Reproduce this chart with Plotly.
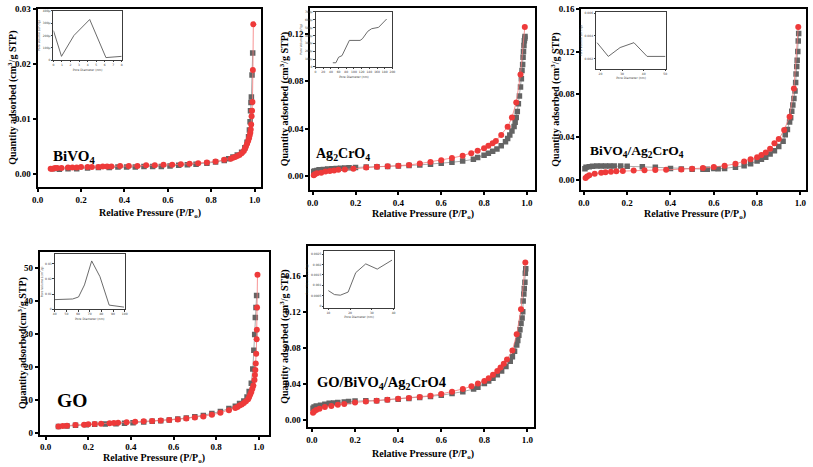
import plotly.graph_objects as go

W, H = 813, 467

# ---------------- data ----------------
bivo4_red_x = [0.06, 0.07, 0.08, 0.09, 0.11, 0.14, 0.16, 0.18, 0.20, 0.23, 0.25, 0.28, 0.30, 0.32, 0.34, 0.38, 0.42, 0.46, 0.50, 0.54, 0.58, 0.62, 0.66, 0.70, 0.74, 0.78, 0.82, 0.86, 0.89, 0.90, 0.91, 0.92, 0.93, 0.94, 0.95, 0.955, 0.96, 0.965, 0.97, 0.974, 0.977, 0.980, 0.982, 0.984, 0.986, 0.988, 0.990, 0.992, 0.994]
bivo4_red_y = [0.0010, 0.0010, 0.0011, 0.0011, 0.0011, 0.0012, 0.0012, 0.0012, 0.0013, 0.0013, 0.0013, 0.0013, 0.0014, 0.0014, 0.0014, 0.0015, 0.0015, 0.0015, 0.0016, 0.0016, 0.0017, 0.0017, 0.0018, 0.0019, 0.0020, 0.0021, 0.0023, 0.0026, 0.0028, 0.0030, 0.0031, 0.0033, 0.0035, 0.0038, 0.0042, 0.0046, 0.0050, 0.0055, 0.0060, 0.0065, 0.0070, 0.0075, 0.0081, 0.0090, 0.0105, 0.0115, 0.0131, 0.0189, 0.0272]
bivo4_gray_x = [0.07, 0.10, 0.14, 0.18, 0.23, 0.28, 0.33, 0.37, 0.41, 0.45, 0.49, 0.53, 0.57, 0.61, 0.65, 0.69, 0.73, 0.78, 0.82, 0.86, 0.88, 0.90, 0.92, 0.94, 0.955, 0.965, 0.972, 0.976, 0.979, 0.981, 0.983, 0.985, 0.988, 0.991]
bivo4_gray_y = [0.0010, 0.0009, 0.0010, 0.0010, 0.0011, 0.0012, 0.0012, 0.0013, 0.0013, 0.0013, 0.0014, 0.0014, 0.0014, 0.0015, 0.0016, 0.0017, 0.0018, 0.0020, 0.0022, 0.0025, 0.0028, 0.0031, 0.0035, 0.0040, 0.0048, 0.0058, 0.0068, 0.0080, 0.0095, 0.0115, 0.0130, 0.0140, 0.0180, 0.0220]

ag_red_x = [0.005, 0.01, 0.02, 0.04, 0.06, 0.08, 0.10, 0.12, 0.15, 0.19, 0.25, 0.30, 0.35, 0.40, 0.45, 0.50, 0.55, 0.60, 0.65, 0.70, 0.74, 0.77, 0.80, 0.82, 0.84, 0.855, 0.88, 0.91, 0.93, 0.95, 0.97, 0.99]
ag_red_y = [0.0010, 0.0018, 0.0025, 0.0030, 0.0040, 0.0045, 0.0050, 0.0055, 0.0058, 0.0063, 0.0074, 0.0080, 0.0084, 0.0088, 0.0096, 0.0107, 0.0121, 0.0135, 0.0154, 0.0173, 0.0195, 0.0215, 0.0237, 0.0256, 0.0278, 0.0297, 0.0347, 0.0416, 0.0495, 0.0620, 0.0856, 0.1255]
ag_gray_x = [0.005, 0.01, 0.02, 0.03, 0.05, 0.07, 0.09, 0.11, 0.13, 0.15, 0.17, 0.20, 0.25, 0.30, 0.35, 0.40, 0.45, 0.50, 0.55, 0.60, 0.65, 0.70, 0.75, 0.77, 0.80, 0.82, 0.84, 0.86, 0.88, 0.90, 0.91, 0.92, 0.93, 0.94, 0.945, 0.95, 0.955, 0.96, 0.965, 0.97, 0.974, 0.977, 0.98, 0.982, 0.984, 0.986, 0.988, 0.99, 0.991]
ag_gray_y = [0.0040, 0.0045, 0.0050, 0.0055, 0.0058, 0.0061, 0.0064, 0.0066, 0.0068, 0.0070, 0.0072, 0.0075, 0.0078, 0.0080, 0.0083, 0.0087, 0.0091, 0.0096, 0.0102, 0.0109, 0.0118, 0.0128, 0.0143, 0.0158, 0.0178, 0.0193, 0.0210, 0.0230, 0.0258, 0.0290, 0.0318, 0.0348, 0.0380, 0.0418, 0.0455, 0.0495, 0.0545, 0.0610, 0.0675, 0.0750, 0.0820, 0.0890, 0.0940, 0.1000, 0.1050, 0.1100, 0.1140, 0.1160, 0.1175]

bvag_red_x = [0.008, 0.015, 0.025, 0.05, 0.08, 0.10, 0.125, 0.15, 0.18, 0.23, 0.28, 0.33, 0.38, 0.45, 0.50, 0.55, 0.60, 0.65, 0.70, 0.74, 0.77, 0.80, 0.82, 0.84, 0.86, 0.88, 0.90, 0.925, 0.95, 0.97, 0.99]
bvag_red_y = [0.0015, 0.0030, 0.0040, 0.0055, 0.0065, 0.0070, 0.0075, 0.0078, 0.0080, 0.0085, 0.0088, 0.0090, 0.0092, 0.0095, 0.0103, 0.0108, 0.0118, 0.0130, 0.0148, 0.0170, 0.0190, 0.0210, 0.0230, 0.0255, 0.0290, 0.0340, 0.0380, 0.0465, 0.0590, 0.0855, 0.1430]
bvag_gray_x = [0.005, 0.01, 0.025, 0.04, 0.06, 0.08, 0.10, 0.12, 0.14, 0.17, 0.20, 0.27, 0.33, 0.40, 0.45, 0.50, 0.55, 0.57, 0.60, 0.62, 0.65, 0.70, 0.74, 0.77, 0.80, 0.82, 0.84, 0.86, 0.88, 0.90, 0.92, 0.93, 0.94, 0.95, 0.955, 0.96, 0.965, 0.97, 0.975, 0.978, 0.98, 0.983, 0.985, 0.988, 0.99, 0.992]
bvag_gray_y = [0.0101, 0.0115, 0.0120, 0.0125, 0.0127, 0.0128, 0.0128, 0.0128, 0.0128, 0.0127, 0.0125, 0.0120, 0.0115, 0.0105, 0.0100, 0.0098, 0.0097, 0.0097, 0.0105, 0.0102, 0.0105, 0.0115, 0.0130, 0.0148, 0.0175, 0.0190, 0.0210, 0.0240, 0.0270, 0.0310, 0.0360, 0.0420, 0.0470, 0.0540, 0.0580, 0.0640, 0.0700, 0.0760, 0.0830, 0.0910, 0.0990, 0.1060, 0.1120, 0.1200, 0.1300, 0.1370]

go_red_x = [0.06, 0.08, 0.10, 0.14, 0.18, 0.20, 0.23, 0.26, 0.30, 0.32, 0.34, 0.38, 0.42, 0.46, 0.50, 0.54, 0.58, 0.62, 0.66, 0.70, 0.74, 0.78, 0.82, 0.86, 0.89, 0.90, 0.91, 0.92, 0.93, 0.94, 0.95, 0.955, 0.96, 0.965, 0.97, 0.975, 0.98, 0.982, 0.984, 0.986, 0.988, 0.990, 0.991, 0.992, 0.994]
go_red_y = [1.8, 2.0, 2.1, 2.3, 2.4, 2.5, 2.6, 2.7, 2.8, 2.9, 3.0, 3.1, 3.3, 3.4, 3.5, 3.7, 3.8, 4.0, 4.3, 4.6, 4.9, 5.4, 6.0, 6.8, 7.5, 7.8, 8.2, 8.5, 9.0, 9.5, 10.1, 10.8, 11.6, 12.3, 13.3, 14.3, 16.0, 17.5, 19.0, 21.0, 24.0, 28.4, 31.3, 38.0, 48.0]
go_gray_x = [0.06, 0.10, 0.14, 0.19, 0.23, 0.28, 0.33, 0.37, 0.41, 0.46, 0.50, 0.54, 0.58, 0.62, 0.66, 0.70, 0.74, 0.78, 0.82, 0.86, 0.89, 0.91, 0.93, 0.945, 0.955, 0.965, 0.972, 0.977, 0.981, 0.984, 0.987, 0.990]
go_gray_y = [1.8, 2.0, 2.2, 2.4, 2.5, 2.6, 2.7, 2.8, 3.0, 3.2, 3.4, 3.6, 3.8, 4.1, 4.4, 4.8, 5.2, 5.8, 6.4, 7.3, 8.0, 8.8, 9.6, 10.8, 12.5, 15.0, 19.3, 25.0, 29.8, 35.0, 38.0, 41.7]

comp_red_x = [0.005, 0.01, 0.02, 0.035, 0.06, 0.09, 0.12, 0.15, 0.20, 0.25, 0.30, 0.35, 0.40, 0.45, 0.50, 0.55, 0.60, 0.65, 0.70, 0.74, 0.77, 0.80, 0.82, 0.84, 0.86, 0.875, 0.89, 0.905, 0.93, 0.95, 0.97, 0.99]
comp_red_y = [0.0075, 0.0090, 0.0105, 0.0120, 0.0140, 0.0150, 0.0165, 0.0172, 0.0190, 0.0200, 0.0210, 0.0220, 0.0230, 0.0240, 0.0250, 0.0265, 0.0285, 0.0310, 0.0340, 0.0370, 0.0400, 0.0430, 0.0460, 0.0500, 0.0540, 0.0580, 0.0620, 0.0670, 0.0770, 0.0950, 0.1230, 0.1750]
comp_gray_x = [0.005, 0.01, 0.02, 0.04, 0.06, 0.08, 0.10, 0.12, 0.15, 0.17, 0.20, 0.25, 0.30, 0.35, 0.40, 0.45, 0.50, 0.55, 0.60, 0.65, 0.70, 0.75, 0.77, 0.80, 0.82, 0.84, 0.86, 0.88, 0.90, 0.92, 0.93, 0.94, 0.95, 0.955, 0.96, 0.965, 0.97, 0.975, 0.978, 0.98, 0.983, 0.985, 0.988, 0.99, 0.992]
comp_gray_y = [0.0125, 0.0140, 0.0150, 0.0160, 0.0170, 0.0180, 0.0185, 0.0190, 0.0195, 0.0200, 0.0205, 0.0210, 0.0210, 0.0220, 0.0225, 0.0235, 0.0245, 0.0255, 0.0270, 0.0290, 0.0310, 0.0340, 0.0360, 0.0400, 0.0430, 0.0460, 0.0500, 0.0540, 0.0590, 0.0650, 0.0700, 0.0760, 0.0830, 0.0880, 0.0940, 0.1000, 0.1070, 0.1130, 0.1200, 0.1320, 0.1400, 0.1460, 0.1530, 0.1630, 0.1680]

# inset pore-size distributions
ins1_x = [0, 0.94, 2.4, 4.25, 6.15, 8.0]
ins1_y = [0.00024, 0.00003, 0.00020, 0.00033, 0.00002, 0.00003]
ins2_x = [45, 53, 60, 69, 88, 116, 122, 136, 146, 164, 185]
ins2_y = [0.000053, 0.000053, 0.000123, 0.000144, 0.000337, 0.000337, 0.000358, 0.000453, 0.000486, 0.000503, 0.000609]
ins3_x = [18.45, 23.65, 29.1, 35.5, 41.6, 50.0]
ins3_y = [0.00341, 0.0022, 0.00298, 0.00341, 0.0022, 0.0022]
ins4_x = [40, 49, 55.3, 60.4, 65.5, 71.7, 78.8, 86.7, 99.4]
ins4_y = [0.0064, 0.0068, 0.0068, 0.0081, 0.016, 0.0317, 0.0214, 0.0028, 0.0015]
ins5_x = [10.0, 12.8, 15.5, 19.1, 22.6, 27.2, 32.5, 39.3]
ins5_y = [0.00075, 0.00056, 0.00053, 0.00068, 0.00161, 0.00203, 0.00178, 0.00221]

labels = ["BiVO<sub>4</sub>", "Ag<sub>2</sub>CrO<sub>4</sub>", "BiVO<sub>4</sub>/Ag<sub>2</sub>CrO<sub>4</sub>", "GO", "GO/BiVO<sub>4</sub>/Ag<sub>2</sub>CrO4"]

# ---------------- layout helpers ----------------
def px(x):
    return x / W

def py(y):
    return 1 - y / H

FONT = "Liberation Serif"
RED = "rgb(238,58,58)"
GRAY = "rgb(100,100,100)"

fig = go.Figure()

panels = [
    dict(box=(32, 258, 4, 185), xr=[0, 1.03], yr=[-0.0023, 0.03], dt=0.01, fmt=".2f",
         red=(bivo4_red_x, bivo4_red_y), gray=(bivo4_gray_x, bivo4_gray_y),
         lab=(45, 155), ls=15, yt="Quantity adsorbed (cm<sup>3</sup>/g STP)", ytx=7, xt=(146, 212)),
    dict(box=(307.7, 535, 3, 188), xr=[-0.011, 1.038], yr=[-0.0113, 0.1415], dt=0.04, fmt=".2f",
         red=(ag_red_x, ag_red_y), gray=(ag_gray_x, ag_gray_y),
         lab=(311, 152), ls=14, yt="Quantity adsorbed (cm<sup>3</sup>/g STP)", ytx=281.5, xt=(422, 213)),
    dict(box=(581.7, 809, 4, 188), xr=[-0.012, 1.026], yr=[-0.0095, 0.16], dt=0.04, fmt=".2f",
         red=(bvag_red_x, bvag_red_y), gray=(bvag_gray_x, bvag_gray_y),
         lab=(589, 149), ls=13.5, yt="Quantity adsorbed (cm<sup>3</sup>/g STP)", ytx=555.5, xt=(697, 213)),
    dict(box=(34.3, 265.7, 251, 437), xr=[-0.027, 1.047], yr=[-0.6, 55], dt=10, fmt="d",
         red=(go_red_x, go_red_y), gray=(go_gray_x, go_gray_y),
         lab=(50, 402), ls=19.5, yt="Quantity adsorbed(cm<sup>3</sup>/g STP)", ytx=16, xt=(150, 461)),
    dict(box=(305, 534.3, 245, 429.3), xr=[-0.02, 1.032], yr=[-0.0083, 0.1936], dt=0.04, fmt=".2f",
         red=(comp_red_x, comp_red_y), gray=(comp_gray_x, comp_gray_y),
         lab=(312, 385), ls=14.5, yt="Quantity adsorbed (cm<sup>3</sup>/g STP)", ytx=281.5, xt=(422, 457)),
]

insets = [
    dict(box=(48, 117, 6, 56), x=ins1_x, y=ins1_y, xr=[0, 8], yr=[0, 0.0004], xd=1, yd=0.0001),
    dict(box=(313, 390.7, 7, 63), x=ins2_x, y=ins2_y, xr=[0, 200], yr=[0, 0.0007], xd=20, yd=0.0001),
    dict(box=(596.7, 667.3, 7.3, 65), x=ins3_x, y=ins3_y, xr=[18, 50.3], yr=[0.0011, 0.0061], xd=10, yd=0.002),
    dict(box=(49.3, 120, 253.7, 309.7), x=ins4_x, y=ins4_y, xr=[40, 100], yr=[0, 0.036], xd=10, yd=0.01),
    dict(box=(322, 392, 250, 308), x=ins5_x, y=ins5_y, xr=[8.2, 40.05], yr=[-0.00007, 0.00266], xd=10, yd=0.0005),
]

layout = dict(
    width=W, height=H, margin=dict(l=0, r=0, t=0, b=0),
    paper_bgcolor="white", plot_bgcolor="white", showlegend=False,
    font=dict(family=FONT, color="black"),
)
annotations = []

for i, p in enumerate(panels):
    n = i + 1
    xa = "xaxis" if n == 1 else f"xaxis{n}"
    ya = "yaxis" if n == 1 else f"yaxis{n}"
    xref = "x" if n == 1 else f"x{n}"
    yref = "y" if n == 1 else f"y{n}"
    x0, x1, y0, y1 = p["box"]
    layout[xa] = dict(domain=[px(x0), px(x1)], range=p["xr"], anchor=yref,
                      showline=True, linecolor="black", linewidth=2, mirror=True,
                      ticks="outside", ticklen=3, tickwidth=1.5, tickcolor="black",
                      tick0=0, dtick=0.2, tickformat=".1f", showgrid=False, zeroline=False,
                      tickfont=dict(family=FONT, size=9, color="black", weight="bold"))
    layout[ya] = dict(domain=[py(y1), py(y0)], range=p["yr"], anchor=xref,
                      showline=True, linecolor="black", linewidth=2, mirror=True,
                      ticks="outside", ticklen=3, tickwidth=1.5, tickcolor="black",
                      tick0=0, dtick=p["dt"], tickformat=p["fmt"], showgrid=False, zeroline=False,
                      tickfont=dict(family=FONT, size=9, color="black", weight="bold"))
    gx, gy = p["gray"]
    rx, ry = p["red"]
    fig.add_trace(go.Scatter(x=gx, y=gy, xaxis=xref, yaxis=yref, mode="lines+markers",
                             line=dict(color="rgb(150,150,150)", width=0.8),
                             marker=dict(symbol="square", size=5.5, color=GRAY)))
    fig.add_trace(go.Scatter(x=rx, y=ry, xaxis=xref, yaxis=yref, mode="lines+markers",
                             line=dict(color="rgb(245,120,120)", width=0.8),
                             marker=dict(symbol="circle", size=6, color=RED)))
    lx, ly = p["lab"]
    annotations.append(dict(text=f"<b>{labels[i]}</b>", x=px(lx), y=py(ly), xref="paper", yref="paper",
                            xanchor="left", yanchor="middle", showarrow=False,
                            font=dict(family=FONT, size=p["ls"], color="black")))
    annotations.append(dict(text=f"<b>{p['yt']}</b>", x=px(p["ytx"]), y=py((y0 + y1) / 2), xref="paper", yref="paper",
                            xanchor="center", yanchor="middle", showarrow=False, textangle=-90,
                            font=dict(family=FONT, size=10, color="black")))
    tx, ty = p["xt"]
    annotations.append(dict(text="<b>Relative Pressure (P/P<sub>o</sub>)</b>", x=px(tx), y=py(ty), xref="paper", yref="paper",
                            xanchor="center", yanchor="middle", showarrow=False,
                            font=dict(family=FONT, size=10, color="black")))

for j, s in enumerate(insets):
    n = 6 + j
    xref, yref = f"x{n}", f"y{n}"
    x0, x1, y0, y1 = s["box"]
    common = dict(showline=True, linecolor="rgb(60,60,60)", linewidth=0.8, mirror=True,
                  ticks="outside", ticklen=1.5, tickwidth=0.5, tickcolor="rgb(60,60,60)",
                  showgrid=False, zeroline=False, tickangle=0,
                  tickfont=dict(family="DejaVu Sans", size=3, color="rgb(60,60,60)"))
    layout[f"xaxis{n}"] = dict(domain=[px(x0), px(x1)], range=s["xr"], anchor=yref, dtick=s["xd"],
                               title=dict(text="Pore Diameter (nm)", font=dict(family="DejaVu Sans", size=3, color="rgb(60,60,60)"), standoff=2),
                               **common)
    layout[f"yaxis{n}"] = dict(domain=[py(y1), py(y0)], range=s["yr"], anchor=xref, dtick=s["yd"],
                               title=dict(text="Pore Volume (cm<sup>3</sup>/g)", font=dict(family="DejaVu Sans", size=3, color="rgb(60,60,60)"), standoff=2),
                               **common)
    fig.add_trace(go.Scatter(x=s["x"], y=s["y"], xaxis=xref, yaxis=yref, mode="lines",
                             line=dict(color="rgb(90,90,90)", width=0.9)))

layout["annotations"] = annotations
fig.update_layout(**layout)
fig.write_html("out.html")
